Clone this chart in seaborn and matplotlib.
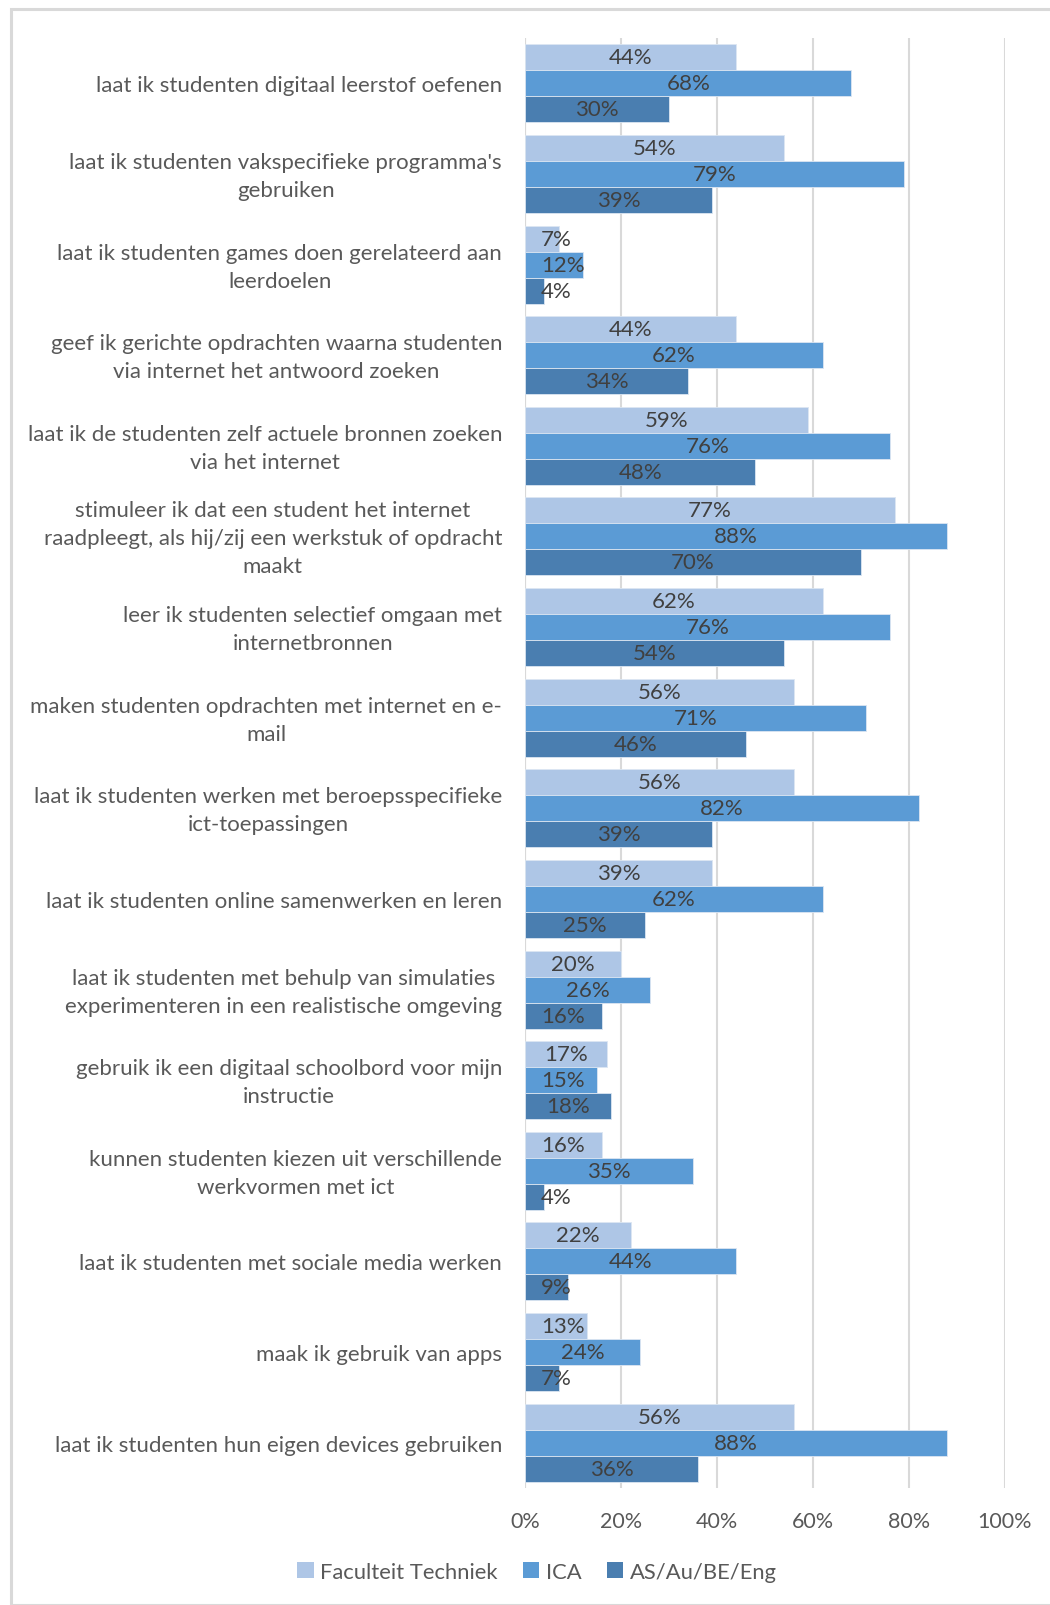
import matplotlib
matplotlib.use("Agg")
import matplotlib.pyplot as plt
import matplotlib.patches as mpatches
import matplotlib.transforms as mtransforms
import seaborn as sns
import pandas as pd
from matplotlib.ticker import FuncFormatter

categories = [
    "laat ik studenten digitaal leerstof oefenen",
    "laat ik studenten vakspecifieke programma's\ngebruiken",
    "laat ik studenten games doen gerelateerd aan\nleerdoelen",
    "geef ik gerichte opdrachten waarna studenten\nvia internet het antwoord zoeken",
    "laat ik de studenten zelf actuele bronnen zoeken\nvia het internet",
    "stimuleer ik dat een student het internet\nraadpleegt, als hij/zij een werkstuk of opdracht\nmaakt",
    "leer ik studenten selectief omgaan met\ninternetbronnen",
    "maken studenten opdrachten met internet en e-\nmail",
    "laat ik studenten werken met beroepsspecifieke\nict-toepassingen",
    "laat ik studenten online samenwerken en leren",
    "laat ik studenten met behulp van simulaties\nexperimenteren in een realistische omgeving",
    "gebruik ik een digitaal schoolbord voor mijn\ninstructie",
    "kunnen studenten kiezen uit verschillende\nwerkvormen met ict",
    "laat ik studenten met sociale media werken",
    "maak ik gebruik van apps",
    "laat ik studenten hun eigen devices gebruiken",
]
series = ["Faculteit Techniek", "ICA", "AS/Au/BE/Eng"]
faculteit_techniek = [44, 54, 7, 44, 59, 77, 62, 56, 56, 39, 20, 17, 16, 22, 13, 56]
ica = [68, 79, 12, 62, 76, 88, 76, 71, 82, 62, 26, 15, 35, 44, 24, 88]
as_au_be_eng = [30, 39, 4, 34, 48, 70, 54, 46, 39, 25, 16, 18, 4, 9, 7, 36]
x_ticks = [0, 20, 40, 60, 80, 100]

colors = ["#AEC6E6", "#5B9BD5", "#4A7EB0"]

rows = []
for name, vals in zip(series, [faculteit_techniek, ica, as_au_be_eng]):
    for cat, v in zip(categories, vals):
        rows.append({"categorie": cat, "groep": name, "waarde": v})
df = pd.DataFrame(rows)

sns.set_theme(style="white")
plt.rcParams["font.family"] = ["Lato", "DejaVu Sans"]

W, H = 1050, 1606
fig = plt.figure(figsize=(W / 100, H / 100), dpi=100)
fig.patch.set_facecolor("white")

# outer chart frame
fig.patches.append(mpatches.Rectangle((11 / W, 0), 1.2, 1 - 10 / H,
                                      transform=fig.transFigure, fill=False,
                                      edgecolor="#D9D9D9", linewidth=2.2))

ax = fig.add_axes([525 / W, 1 - 1489 / H, 480 / W, 1450 / H])
sns.barplot(data=df, y="categorie", x="waarde", hue="groep", order=categories,
            hue_order=series, palette=colors, orient="h", width=0.86,
            saturation=1, edgecolor="#DCE6F2", linewidth=0.6, ax=ax, legend=True)

ax.set_xlim(0, 100)
ax.set_ylim(15.5, -0.5)

# value labels centred in each bar, kept clear of the value axis
labels = []
for container in ax.containers:
    for bar, v in zip(container, container.datavalues):
        y = bar.get_y() + bar.get_height() / 2
        t = ax.text(v / 2, y, f"{v:.0f}%", ha="center", va="center",
                    fontsize=16, color="#404040")
        labels.append(t)

fig.canvas.draw()
renderer = fig.canvas.get_renderer()
px_per_unit = ax.bbox.width / 100
min_left = 16 / px_per_unit
for t in labels:
    w = t.get_window_extent(renderer).width / px_per_unit
    x, y = t.get_position()
    if x - w / 2 < min_left:
        t.set_position((min_left + w / 2, y))

ax.set_xticks(x_ticks)
ax.xaxis.set_major_formatter(FuncFormatter(lambda v, p: f"{v:.0f}%"))
ax.grid(axis="x", color="#D9D9D9", linewidth=1.5)
ax.set_axisbelow(True)
for s in ax.spines.values():
    s.set_visible(False)
ax.axvline(0, color="#D9D9D9", linewidth=1.5, zorder=0.5)
ax.tick_params(axis="both", length=0, colors="#595959")
ax.tick_params(axis="x", pad=16.5, labelsize=15.5)
ax.tick_params(axis="y", pad=16.5, labelsize=16)
lift = mtransforms.ScaledTranslation(0, 4 / 100, fig.dpi_scale_trans)
for lbl in ax.get_yticklabels():
    lbl.set_multialignment("center")
    lbl.set_linespacing(1.5)
    if "\n" in lbl.get_text():
        lbl.set_transform(lbl.get_transform() + lift)
ax.set_xlabel("")
ax.set_ylabel("")

leg = ax.legend(loc="center", bbox_to_anchor=(537 / W, 1 - 1573 / H),
                bbox_transform=fig.transFigure, ncol=3, frameon=False,
                fontsize=15.8, handlelength=0.75, handleheight=0.75,
                handletextpad=0.3, columnspacing=1.15)
for t in leg.get_texts():
    t.set_color("#595959")
for h in leg.legend_handles:
    h.set_edgecolor("none")

fig.savefig("out.png", dpi=100, facecolor="white")
